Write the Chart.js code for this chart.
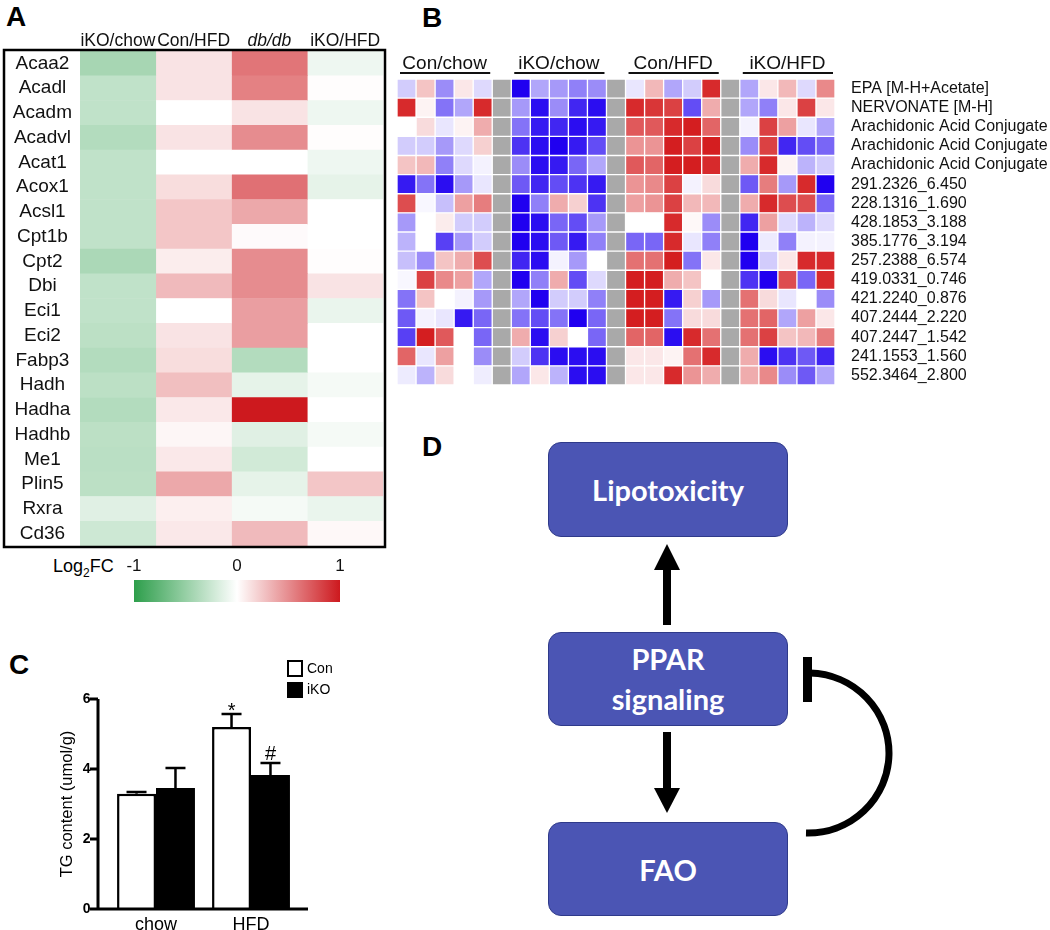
<!DOCTYPE html>
<html>
<head>
<meta charset="utf-8">
<script src="https://cdn.jsdelivr.net/npm/chart.js@4.4.1/dist/chart.umd.min.js"></script>
<style>
  body { margin: 0; background: #fff; font-family: 'Liberation Sans', Arial, sans-serif; }
  #page { position: relative; width: 1050px; height: 930px; overflow: hidden; }
  .abs { position: absolute; }
  canvas { display: block; }
  .tag { position: absolute; font-weight: bold; font-size: 28px; line-height: 1; color: #000; }
  .box {
    position: absolute; box-sizing: border-box; background: #4b55b4; border: 1px solid #2f3a8a;
    border-radius: 13px; color: #fff; font-family: Lato, 'Open Sans', sans-serif; font-weight: bold;
    font-size: 29px; display: flex; align-items: center; justify-content: center; text-align: center;
  }
  .leg { position: absolute; font-size: 14px; line-height: 17px; }
  .swatch { position: absolute; box-sizing: border-box; border: 2px solid #000; }
</style>
</head>
<body>
<div id="page">
  <div class="tag" style="left:6px;top:3px">A</div>
  <div class="tag" style="left:422px;top:4px">B</div>
  <div class="tag" style="left:9px;top:651px">C</div>
  <div class="tag" style="left:422px;top:433px">D</div>

  <canvas id="heatA" class="abs" style="left:0;top:0" width="390" height="552"></canvas>
  <div class="abs" style="left:53px;top:557px;font-size:18px;line-height:1">Log<sub style="font-size:12px">2</sub>FC</div>
  <canvas id="scaleA" class="abs" style="left:120px;top:552px" width="240" height="56"></canvas>

  <canvas id="heatB" class="abs" style="left:390px;top:40px" width="660" height="350"></canvas>

  <canvas id="tgChart" class="abs" style="left:0;top:640px" width="330" height="300"></canvas>
  <div class="swatch" style="left:287px;top:660px;width:16px;height:17px;background:#fff"></div>
  <div class="leg" style="left:307px;top:660px">Con</div>
  <div class="swatch" style="left:287px;top:682px;width:16px;height:16px;background:#000"></div>
  <div class="leg" style="left:307px;top:681px">iKO</div>

  <div class="box" style="left:548px;top:442px;width:240px;height:95px">Lipotoxicity</div>
  <div class="box" style="left:548px;top:632px;width:240px;height:94px;line-height:40px">PPAR<br>signaling</div>
  <div class="box" style="left:548px;top:822px;width:240px;height:94px">FAO</div>
  <svg class="abs" style="left:520px;top:400px" width="400" height="530">
    <rect x="143" y="168" width="8" height="57" fill="#000"/>
    <polygon points="134,170 160,170 147,144" fill="#000"/>
    <rect x="143" y="332" width="8" height="58" fill="#000"/>
    <polygon points="134,388 160,388 147,413" fill="#000"/>
    <rect x="283" y="257" width="9" height="45" fill="#000"/>
    <path d="M 290 273 A 81 80 0 0 1 286 433" fill="none" stroke="#000" stroke-width="7"/>
  </svg>
</div>

<script>
const FONT = "'Liberation Sans', Arial, sans-serif";
Chart.defaults.font.family = FONT;
Chart.defaults.color = '#111';

// Panel A: log2 fold change of FAO genes
const geneNames = ['Acaa2', 'Acadl', 'Acadm', 'Acadvl', 'Acat1', 'Acox1', 'Acsl1', 'Cpt1b', 'Cpt2', 'Dbi',
  'Eci1', 'Eci2', 'Fabp3', 'Hadh', 'Hadha', 'Hadhb', 'Me1', 'Plin5', 'Rxra', 'Cd36'];
const fcColumns = ['iKO/chow', 'Con/HFD', 'db/db', 'iKO/HFD'];
const fcIkoChow = [-0.42, -0.3, -0.3, -0.36, -0.3, -0.3, -0.3, -0.3, -0.4, -0.3, -0.3, -0.32, -0.36, -0.32, -0.36, -0.32, -0.33, -0.32, -0.15, -0.24];
const fcConHfd = [0.12, 0.12, 0.0, 0.12, 0.0, 0.15, 0.25, 0.25, 0.08, 0.3, 0.0, 0.12, 0.15, 0.28, 0.1, 0.04, 0.1, 0.38, 0.07, 0.1];
const fcDbDb = [0.6, 0.55, 0.12, 0.5, 0.0, 0.62, 0.38, 0.02, 0.5, 0.5, 0.42, 0.42, -0.36, -0.12, 1.0, -0.15, -0.22, -0.12, -0.05, 0.3];
const fcIkoHfd = [-0.08, 0.01, -0.08, 0.01, -0.08, -0.12, 0.0, 0.0, 0.01, 0.12, -0.1, 0.0, 0.0, -0.05, 0.0, -0.05, 0.0, 0.25, -0.1, 0.03];
const fcScaleTicks = [-1, 0, 1];

// Panel B: metabolites, 5 samples per group
const metabNames = ['EPA [M-H+Acetate]', 'NERVONATE [M-H]', 'Arachidonic Acid Conjugate', 'Arachidonic Acid Conjugate',
  'Arachidonic Acid Conjugate', '291.2326_6.450', '228.1316_1.690', '428.1853_3.188', '385.1776_3.194', '257.2388_6.574',
  '419.0331_0.746', '421.2240_0.876', '407.2444_2.220', '407.2447_1.542', '241.1553_1.560', '552.3464_2.800'];
const metabGroups = ['Con/chow', 'iKO/chow', 'Con/HFD', 'iKO/HFD'];
const metabConChow = [
  [-0.2, 0.25, -0.45, 0.1, -0.15], [0.9, 0.05, -0.55, -0.35, 0.9], [0, 0.15, -0.1, 0.05, 0.35], [-0.2, -0.2, -0.4, -0.15, 0.2],
  [0.25, 0.3, -0.5, -0.15, -0.05], [-0.9, -0.55, -0.95, -0.4, -0.1], [0.75, -0.03, -0.25, 0.4, 0.55], [-0.4, 0, 0.08, -0.2, -0.2],
  [-0.3, 0, -0.75, -0.4, -0.2], [-0.25, -0.45, 0.25, 0.35, 0.75], [-0.03, 0.8, 0.5, 0.4, -0.35], [-0.55, 0.25, 0, -0.05, -0.4],
  [-0.65, -0.05, -0.1, -0.9, -0.6], [-0.75, 0.95, 0.7, 0, -0.6], [0.65, -0.1, 0.4, 0, -0.45], [-0.08, -0.3, 0.15, 0, -0.07]];
const metabIkoChow = [
  [-1, -0.35, -0.4, -0.5, -0.45], [-0.4, -0.95, -0.45, -0.85, -0.95], [-0.55, -0.9, -0.85, -0.95, -0.9], [-0.8, -0.95, -1, -0.9, -0.7],
  [-0.45, -0.95, -0.9, -0.6, -0.35], [-0.65, -0.85, -0.7, -0.8, -0.9], [-1, -0.5, 0.35, 0.2, -0.8], [-1, -0.95, -0.6, -0.7, -0.4],
  [-1, -0.95, -0.65, -0.9, -0.5], [-0.85, -0.95, -0.05, -0.4, 0], [-1, -0.5, 0.35, -0.7, -0.15], [-0.35, -1, -0.2, -0.2, -0.5],
  [-0.55, -0.7, -0.55, -1, -0.6], [0.35, -0.95, 0.2, 0, -0.6], [-0.2, -0.8, -0.95, -0.95, -0.95], [-0.35, 0.1, -0.3, -0.95, -0.95]];
const metabConHfd = [
  [-0.1, 0.3, -0.35, -0.2, 0.9], [0.9, 0.85, 0.8, -0.7, 0.35], [0.7, 0.7, 0.9, 0.95, 0.65], [0.45, 0.45, 0.95, 0.8, 0.95],
  [0.7, 0.65, 0.95, 0.95, 0.9], [0.45, 0.5, 0.8, -0.05, 0.15], [0.4, 0.45, 0.8, 0.3, 0.3], [0, 0, 0.9, 0.03, -0.45],
  [-0.6, -0.6, 0.9, -0.1, -0.5], [0.6, 0.6, 0.95, -0.55, 0.1], [0.95, 0.95, 0.35, 0.25, 0], [0.95, 0.95, -0.9, 0.2, -0.4],
  [0.95, 0.95, -0.55, 0.15, 0.15], [0.65, 0.65, -0.95, 0.9, 0.6], [0.1, 0.1, 0.05, 0.6, 0.9], [0.1, 0.1, 0.9, 0.45, 0.35]];
const metabIkoHfd = [
  [-0.35, 0.1, 0.3, -0.15, 0.5], [-0.35, -0.5, 0.1, 0.8, 0.1], [-0.05, 0.8, 0.4, -0.1, -0.35], [-0.45, 0.8, -0.85, -0.7, -0.6],
  [0.35, 0.9, 0.05, -0.3, -0.2], [-0.65, 0.55, -0.4, 0.9, -1], [0.35, 0.9, 0.75, 0.75, -0.6], [-0.85, 0.4, -0.15, -0.3, -0.15],
  [-1, -0.08, -0.5, -0.05, -0.05], [-1, -0.2, 0.1, 0.9, 0.9], [-0.8, -1, 0.75, -0.6, 0.9], [0.6, 0.15, -0.1, 0, -0.45],
  [0.6, 0.65, -0.35, 0.4, 0.1], [0.6, 0.8, 0.25, 0.3, 0.55], [0.35, -0.95, -0.8, -0.65, -0.85], [0.35, 0.5, -0.45, -0.65, -0.35]];

// Panel C: TG content
const tgGroups = ['chow', 'HFD'];
const tgCon = [3.29, 5.2];
const tgConSE = [0.05, 0.37];
const tgIko = [3.46, 3.83];
const tgIkoSE = [0.57, 0.34];
const tgConMarks = ['', '*'];
const tgIkoMarks = ['', '#'];

function mix(end, t) {
  t = Math.min(Math.abs(t), 1);
  return 'rgb(' + end.map(c => Math.round(255 + (c - 255) * t)).join(',') + ')';
}
function fcColor(v) {
  return mix(v < 0 ? [45, 158, 75] : [205, 25, 30], v);
}
function metabColor(v) {
  if (v === null) return '#a9a9a9';
  return mix(v < 0 ? [32, 0, 240] : [210, 18, 20], v);
}
// keep row labels from shrinking the plot area
function noEdgePad(s, width) {
  s.width = width;
  s.paddingTop = 0;
  s.paddingBottom = 0;
}

// Panel A heatmap
const frameA = {
  id: 'frameA',
  afterDraw(chart) {
    const { ctx, chartArea: a } = chart;
    ctx.save();
    ctx.strokeStyle = '#000';
    ctx.lineWidth = 2.5;
    ctx.strokeRect(4, a.top - 1, a.right - 2, a.bottom - a.top + 2);
    ctx.restore();
  }
};

new Chart(document.getElementById('heatA'), {
  type: 'bar',
  data: {
    labels: geneNames,
    datasets: [fcIkoChow, fcConHfd, fcDbDb, fcIkoHfd].map((vals, c) => ({
      label: fcColumns[c],
      data: vals.map(() => [c, c + 1]),
      backgroundColor: vals.map(fcColor),
      borderWidth: 0,
      grouped: false,
      barPercentage: 1,
      categoryPercentage: 1,
    }))
  },
  options: {
    indexAxis: 'y',
    responsive: false,
    animation: false,
    layout: { padding: { top: 0, right: 7, bottom: 6, left: 0 } },
    plugins: { legend: { display: false }, tooltip: { enabled: false } },
    scales: {
      x: {
        type: 'linear', position: 'top', min: 0, max: fcColumns.length,
        grid: { display: false }, border: { display: false },
        afterBuildTicks: (s) => { s.ticks = fcColumns.map((_, i) => ({ value: i + 0.5 })); },
        afterFit: (s) => { s.height = 51; s.paddingLeft = 0; s.paddingRight = 0; },
        ticks: {
          autoSkip: false, maxRotation: 0, minRotation: 0, padding: -9, color: '#111',
          callback: (v, i) => fcColumns[i],
          font: (ctx) => ({ family: FONT, size: 17.5, style: ctx.index === 2 ? 'italic' : 'normal' }),
        }
      },
      y: {
        grid: { display: false }, border: { display: false },
        afterFit: (s) => noEdgePad(s, 80),
        ticks: { autoSkip: false, crossAlign: 'center', padding: 0, color: '#111', font: { size: 19 } }
      }
    }
  },
  plugins: [frameA]
});

// Panel A colour key
new Chart(document.getElementById('scaleA'), {
  type: 'bar',
  data: {
    labels: ['Log2FC'],
    datasets: [{
      data: [[fcScaleTicks[0], fcScaleTicks[fcScaleTicks.length - 1]]],
      backgroundColor: (ctx) => {
        const chart = ctx.chart;
        if (!chart.chartArea) return null;
        const x = chart.scales.x;
        const g = chart.ctx.createLinearGradient(x.getPixelForValue(-1), 0, x.getPixelForValue(1), 0);
        for (let k = 0; k <= 20; k++) g.addColorStop(k / 20, fcColor(k / 10 - 1));
        return g;
      },
      borderWidth: 0,
      barPercentage: 1,
      categoryPercentage: 1,
    }]
  },
  options: {
    indexAxis: 'y',
    responsive: false,
    animation: false,
    layout: { padding: { top: 0, right: 20, bottom: 6, left: 14 } },
    plugins: { legend: { display: false }, tooltip: { enabled: false } },
    scales: {
      x: {
        type: 'linear', position: 'top', min: -1, max: 1,
        grid: { display: false }, border: { display: false },
        afterBuildTicks: (s) => { s.ticks = fcScaleTicks.map(v => ({ value: v })); },
        afterFit: (s) => { s.height = 28; },
        ticks: { padding: -5, color: '#111', font: { size: 17 }, callback: (v) => String(v) }
      },
      y: { display: false }
    }
  }
});

// Panel B heatmap
const metabColumns = [];
[metabConChow, metabIkoChow, metabConHfd, metabIkoHfd].forEach((rows, g, all) => {
  for (let s = 0; s < rows[0].length; s++) metabColumns.push(rows.map(r => r[s]));
  if (g < all.length - 1) metabColumns.push(metabNames.map(() => null));
});

const groupLines = {
  id: 'groupLines',
  afterDraw(chart) {
    const { ctx, chartArea: a } = chart;
    const x = chart.scales.x;
    ctx.save();
    ctx.strokeStyle = '#111';
    ctx.lineWidth = 1.8;
    metabGroups.forEach((_, g) => {
      ctx.beginPath();
      ctx.moveTo(x.getPixelForValue(g * 6) + 3, a.top - 6);
      ctx.lineTo(x.getPixelForValue(g * 6 + 5) - 2, a.top - 6);
      ctx.stroke();
    });
    ctx.restore();
  }
};

new Chart(document.getElementById('heatB'), {
  type: 'bar',
  data: {
    labels: metabNames,
    datasets: metabColumns.map((vals, c) => ({
      data: vals.map(() => [c, c + 1]),
      backgroundColor: vals.map(metabColor),
      borderColor: '#fff',
      borderWidth: 1,
      borderSkipped: false,
      grouped: false,
      barPercentage: 1,
      categoryPercentage: 1,
    }))
  },
  options: {
    indexAxis: 'y',
    responsive: false,
    animation: false,
    layout: { padding: { top: 0, right: 0, bottom: 5, left: 7 } },
    plugins: { legend: { display: false }, tooltip: { enabled: false } },
    scales: {
      x: {
        type: 'linear', position: 'top', min: 0, max: metabColumns.length,
        grid: { display: false }, border: { display: false },
        afterBuildTicks: (s) => { s.ticks = metabGroups.map((_, g) => ({ value: g * 6 + 2.5 })); },
        afterFit: (s) => { s.height = 39; s.paddingLeft = 0; s.paddingRight = 0; },
        ticks: {
          autoSkip: false, maxRotation: 0, minRotation: 0, padding: -4, color: '#111',
          font: { size: 19 }, callback: (v, i) => metabGroups[i]
        }
      },
      y: {
        position: 'right',
        grid: { display: false }, border: { display: false },
        afterFit: (s) => noEdgePad(s, 215),
        ticks: { autoSkip: false, padding: 8, color: '#111', font: { size: 16 } }
      }
    }
  },
  plugins: [groupLines]
});

// Panel C bar chart with SE whiskers; axes sit a little outside the bar area
const AXIS_GAP = 10.5;
const tgAxes = {
  id: 'tgAxes',
  afterDatasetsDraw(chart) {
    const { ctx, chartArea: a } = chart;
    const y = chart.scales.y;
    const x0 = a.left - AXIS_GAP;
    ctx.save();
    ctx.strokeStyle = '#000';
    ctx.lineWidth = 3;
    ctx.beginPath();
    ctx.moveTo(x0, a.top);
    ctx.lineTo(x0, a.bottom + 1.5);
    ctx.moveTo(x0 - 1.5, a.bottom);
    ctx.lineTo(a.right + AXIS_GAP - 1, a.bottom);
    y.ticks.forEach(t => {
      const py = y.getPixelForValue(t.value);
      ctx.moveTo(x0 - 8, py);
      ctx.lineTo(x0, py);
    });
    ctx.stroke();
    ctx.restore();
  }
};

const errorBars = {
  id: 'errorBars',
  afterDatasetsDraw(chart) {
    const { ctx } = chart;
    const y = chart.scales.y;
    chart.data.datasets.forEach((ds, i) => {
      chart.getDatasetMeta(i).data.forEach((bar, j) => {
        const top = y.getPixelForValue(ds.data[j] + ds.errors[j]);
        ctx.save();
        ctx.strokeStyle = '#000';
        ctx.lineWidth = 2.5;
        ctx.beginPath();
        ctx.moveTo(bar.x, bar.y);
        ctx.lineTo(bar.x, top);
        ctx.moveTo(bar.x - 10, top);
        ctx.lineTo(bar.x + 10, top);
        ctx.stroke();
        if (ds.marks[j]) {
          ctx.fillStyle = '#000';
          ctx.font = '20px ' + FONT;
          ctx.textAlign = 'center';
          ctx.textBaseline = 'alphabetic';
          const m = ctx.measureText(ds.marks[j]);
          ctx.fillText(ds.marks[j], bar.x, top - 3 - m.actualBoundingBoxDescent);
        }
        ctx.restore();
      });
    });
  }
};

new Chart(document.getElementById('tgChart'), {
  type: 'bar',
  data: {
    labels: tgGroups,
    datasets: [
      { label: 'Con', data: tgCon, errors: tgConSE, marks: tgConMarks, backgroundColor: '#fff', borderColor: '#000', borderWidth: 2.5 },
      { label: 'iKO', data: tgIko, errors: tgIkoSE, marks: tgIkoMarks, backgroundColor: '#000', borderColor: '#000', borderWidth: 0 },
    ]
  },
  options: {
    responsive: false,
    animation: false,
    categoryPercentage: 0.82,
    barPercentage: 1,
    layout: { padding: { top: 59, right: 31.5, bottom: 0, left: 50 } },
    plugins: { legend: { display: false }, tooltip: { enabled: false } },
    scales: {
      x: {
        grid: { display: false },
        border: { display: false },
        afterFit: (s) => { s.height = 31; },
        ticks: { padding: -3, color: '#000', font: { size: 18 } }
      },
      y: {
        min: 0, max: 6,
        afterFit: (s) => { s.width = 58.5; s.paddingTop = 0; s.paddingBottom = 0; },
        grid: { display: false },
        border: { display: false },
        ticks: { stepSize: 2, padding: 10, color: '#000', font: { size: 14, weight: 'bold' } },
        title: { display: true, text: 'TG content (umol/g)', color: '#000', font: { size: 16.5 }, padding: { top: 8, bottom: 0 } }
      }
    }
  },
  plugins: [tgAxes, errorBars]
});
</script>
</body>
</html>
